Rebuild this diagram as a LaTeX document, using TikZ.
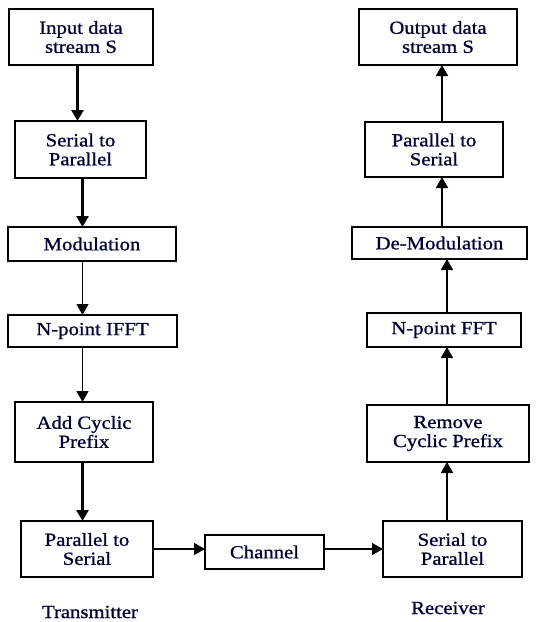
\documentclass[tikz,border=0pt]{standalone}
\usepackage{fontspec}
\setmainfont{Liberation Serif}
\newfontfamily\diagfont[FakeStretch=1.12,FakeBold=0.9]{Liberation Serif}
\usetikzlibrary{arrows.meta}
\begin{document}
\begin{tikzpicture}[x=1pt,y=-1pt,
  box/.style={draw, line width=1.4pt, inner sep=0pt, outer sep=0pt, align=center,
    font=\diagfont\fontsize{18.5}{19}\selectfont, text=black!80!blue},
  arr/.style={-{Triangle[length=11pt,width=12pt]}, line width=1.8pt},
  thickarr/.style={arr, line width=2.6pt},
  thinarr/.style={arr, line width=1.1pt},
  lbl/.style={font=\diagfont\fontsize{18.5}{19}\selectfont, text=black!80!blue}]
\useasboundingbox (0,0) rectangle (537,622);
% transmitter
\node[box, minimum width=144pt, minimum height=56pt] (in) at (81,37) {Input data\\stream S};
\node[box, minimum width=131pt, minimum height=57pt] (sp) at (80.5,149.5) {Serial to\\Parallel};
\node[box, minimum width=168pt, minimum height=34pt] (mod) at (92,244) {Modulation};
\node[box, minimum width=169pt, minimum height=32pt] (ifft) at (92.5,331) {N-point IFFT};
\node[box, minimum width=138pt, minimum height=60pt] (cp) at (84,432) {Add Cyclic\\Prefix};
\node[box, minimum width=132pt, minimum height=56pt] (ps) at (87,549) {Parallel to\\Serial};
\node[box, minimum width=119pt, minimum height=34pt] (ch) at (264.5,552) {Channel};
% receiver
\node[box, minimum width=158pt, minimum height=56pt] (out) at (438,37) {Output data\\stream S};
\node[box, minimum width=138pt, minimum height=55pt] (rps) at (434,149.5) {Parallel to\\Serial};
\node[box, minimum width=175pt, minimum height=32pt] (dem) at (439.5,243) {De-Modulation};
\node[box, minimum width=154pt, minimum height=34pt] (fft) at (444,330) {N-point FFT};
\node[box, minimum width=162pt, minimum height=57pt] (rm) at (448,433.5) {Remove\\Cyclic Prefix};
\node[box, minimum width=139pt, minimum height=56pt] (rsp) at (452.5,549) {Serial to\\Parallel};
% labels
\node[lbl] (tx) at (90,612) {Transmitter};
\node[lbl] (rx) at (448,608) {Receiver};
% x-guides
\coordinate (xa) at (77.5,0);
\coordinate (xb) at (82.5,0);
\coordinate (xc) at (442,0);
\coordinate (xd) at (447,0);
\coordinate (ya) at (0,549);
% arrows
\draw[thickarr, line width=2.9pt] (in.south -| xa) -- (sp.north -| xa);
\draw[thickarr] (sp.south -| xb) -- (mod.north -| xb);
\draw[thinarr] (mod.south -| xb) -- (ifft.north -| xb);
\draw[thinarr] (ifft.south -| xb) -- (cp.north -| xb);
\draw[thickarr] (cp.south -| xb) -- (ps.north -| xb);
\draw[arr, line width=1.4pt] (ps.east |- ya) -- (ch.west |- ya);
\draw[arr, line width=1.4pt] (ch.east |- ya) -- (rsp.west |- ya);
\draw[arr] (rsp.north -| xd) -- (rm.south -| xd);
\draw[arr] (rm.north -| xd) -- (fft.south -| xd);
\draw[arr] (fft.north -| xd) -- (dem.south -| xd);
\draw[arr] (dem.north -| xc) -- (rps.south -| xc);
\draw[arr] (rps.north -| xc) -- (out.south -| xc);
\end{tikzpicture}
\end{document}
